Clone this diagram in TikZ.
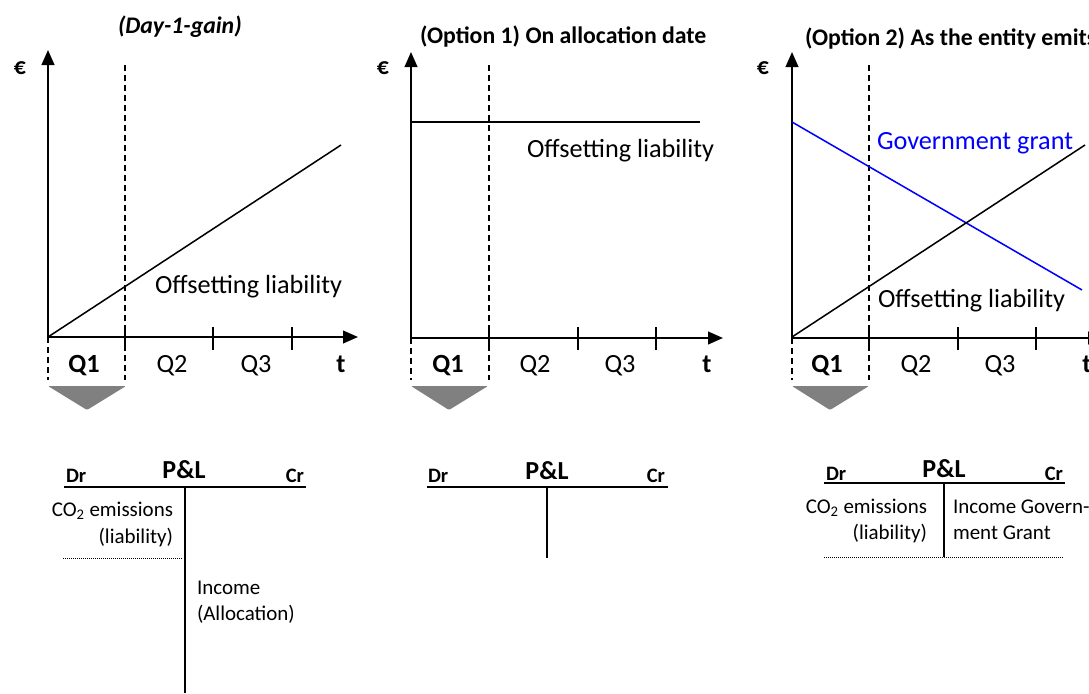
\documentclass[tikz,border=0pt]{standalone}
\usepackage{fontspec}
\setmainfont{Carlito}
\usepackage{xcolor}
\usetikzlibrary{arrows.meta}

\newcommand{\lblfont}{\fontsize{22.4}{26}\selectfont}
\newcommand{\ttlfont}{\fontsize{20.3}{24}\selectfont\bfseries}
\newcommand{\smlfont}{\fontsize{17.9}{21}\selectfont}
\newcommand{\accfont}{\fontsize{17.5}{20}\selectfont\bfseries}
\newcommand{\plfont}{\fontsize{22.2}{26}\selectfont\bfseries}

\definecolor{tribox}{RGB}{128,128,128}
\definecolor{grantblue}{RGB}{0,0,255}

\tikzset{
  axis/.style={line width=1.7pt, -{Triangle[length=0.45cm,width=0.38cm]}},
  tickmark/.style={line width=1.5pt},
  qline/.style={line width=1.5pt, dash pattern=on 0.18cm off 0.12cm},
  valline/.style={line width=1.3pt},
  acc/.style={line width=1.7pt},
  dotline/.style={line width=0.8pt, dash pattern=on 0.03cm off 0.03cm},
  qarrow/.style={fill=tribox, rounded corners=1pt},
  every node/.style={inner sep=0pt, outer sep=0pt}
}

\begin{document}
\begin{tikzpicture}[x=0.03cm, y=-0.03cm]
  \path[use as bounding box, clip] (0,0) rectangle (1089,693);

  % ---- panel 1: Day-1-gain
  \begin{scope}[shift={(48,0)}]
    \draw[axis] (0,337) -- (0,50);
    \draw[axis] (0,337) -- (310,337);
    \draw[tickmark] (77,327) -- (77,350);
    \draw[tickmark] (165,327) -- (165,350);
    \draw[tickmark] (244,327) -- (244,350);
    \draw[qline] (77,65) -- (77,380);
    \draw[qline] (0,337) -- (0,380);
    \fill[qarrow] (0,386) -- (78,386) -- (39,410) -- cycle;
    \draw[valline] (0,337) -- (293,145); % offsetting liability
    \node (eur1) at (-28,68) {\ttlfont €};
    \node[anchor=base] (q1a) at (36,372) {\lblfont\bfseries Q1};
    \node[anchor=base] (q2a) at (124,372) {\lblfont Q2};
    \node[anchor=base] (q3a) at (208,372) {\lblfont Q3};
    \node[anchor=base] (ta) at (293,372) {\lblfont\bfseries t};
  \end{scope}
  \node[anchor=base west] (ttl1) at (118,33) {\ttlfont\itshape (Day-1-gain)};
  \node[anchor=base west] (liab1) at (155,293) {\lblfont Offsetting liability};

  % ---- panel 2: option 1
  \begin{scope}[shift={(411,0)}]
    \draw[axis] (0,338) -- (0,52);
    \draw[axis] (0,338) -- (312,338);
    \draw[tickmark] (78,327) -- (78,350);
    \draw[tickmark] (167,327) -- (167,350);
    \draw[tickmark] (245,327) -- (245,350);
    \draw[qline] (78,65) -- (78,380);
    \draw[qline] (0,338) -- (0,380);
    \fill[qarrow] (0,386) -- (77,386) -- (38,410) -- cycle;
    \draw[valline] (0,122) -- (289,122); % offsetting liability
    \node (eur2) at (-28,68) {\ttlfont €};
    \node[anchor=base] (q1b) at (37,372) {\lblfont\bfseries Q1};
    \node[anchor=base] (q2b) at (124,372) {\lblfont Q2};
    \node[anchor=base] (q3b) at (209,372) {\lblfont Q3};
    \node[anchor=base] (tb) at (296,372) {\lblfont\bfseries t};
  \end{scope}
  \node[anchor=base west] (ttl2) at (420,43) {\ttlfont (Option 1) On allocation date};
  \node[anchor=base west] (liab2) at (527,157) {\lblfont Offsetting liability};

  % ---- panel 3: option 2
  \begin{scope}[shift={(792,0)}]
    \draw[axis] (0,338) -- (0,52);
    \draw[axis] (0,338) -- (311,338);
    \draw[tickmark] (77,327) -- (77,350);
    \draw[tickmark] (166,327) -- (166,350);
    \draw[tickmark] (244,327) -- (244,350);
    \draw[qline] (77,65) -- (77,380);
    \draw[qline] (0,338) -- (0,380);
    \fill[qarrow] (0,386) -- (77,386) -- (38,410) -- cycle;
    \draw[valline, grantblue] (0,122) -- (290,290); % government grant
    \draw[valline] (0,337) -- (293,145); % offsetting liability
    \node (eur3) at (-29,68) {\ttlfont €};
    \node[anchor=base] (q1c) at (35,372) {\lblfont\bfseries Q1};
    \node[anchor=base] (q2c) at (124,372) {\lblfont Q2};
    \node[anchor=base] (q3c) at (208,372) {\lblfont Q3};
    \node[anchor=base] (tc) at (295,372) {\lblfont\bfseries t};
  \end{scope}
  \node[anchor=base west] (ttl3) at (805,45) {\ttlfont (Option 2) As the entity emits};
  \node[anchor=base west, text=grantblue] (grant3) at (877,149) {\lblfont Government grant};
  \node[anchor=base west] (liab3) at (878,307) {\lblfont Offsetting liability};

  % ---- T-account 1
  \draw[acc] (64,487) -- (306,487);
  \draw[acc] (185,487) -- (185,693);
  \draw[dotline] (63,558) -- (182,558);
  \node[anchor=base west] (dr1) at (66,482) {\accfont Dr};
  \node[anchor=base] (pl1) at (184,478) {\plfont P\&L};
  \node[anchor=base east] (cr1) at (304,482) {\accfont Cr};
  \node[anchor=base east] (co1) at (173,516) {\smlfont CO\textsubscript{2} emissions};
  \node[anchor=base east] (li1) at (173,543) {\smlfont (liability)};
  \node[anchor=base west] (in1) at (197,594) {\smlfont Income};
  \node[anchor=base west] (al1) at (197,620) {\smlfont (Allocation)};

  % ---- T-account 2
  \draw[acc] (427,487) -- (668,487);
  \draw[acc] (547,487) -- (547,558);
  \node[anchor=base west] (dr2) at (428,482) {\accfont Dr};
  \node[anchor=base] (pl2) at (547,479) {\plfont P\&L};
  \node[anchor=base east] (cr2) at (665,482) {\accfont Cr};

  % ---- T-account 3
  \draw[acc] (824,483) -- (1065,483);
  \draw[acc] (944,483) -- (944,557);
  \draw[dotline] (824,557) -- (1063,557);
  \node[anchor=base west] (dr3) at (826,480) {\accfont Dr};
  \node[anchor=base] (pl3) at (944,477) {\plfont P\&L};
  \node[anchor=base east] (cr3) at (1063,480) {\accfont Cr};
  \node[anchor=base east] (co3) at (927,513) {\smlfont CO\textsubscript{2} emissions};
  \node[anchor=base east] (li3) at (927,539) {\smlfont (liability)};
  \node[anchor=base west] (in3) at (953,513) {\smlfont Income Govern-};
  \node[anchor=base west] (gr3) at (953,539) {\smlfont ment Grant};
\end{tikzpicture}
\end{document}
